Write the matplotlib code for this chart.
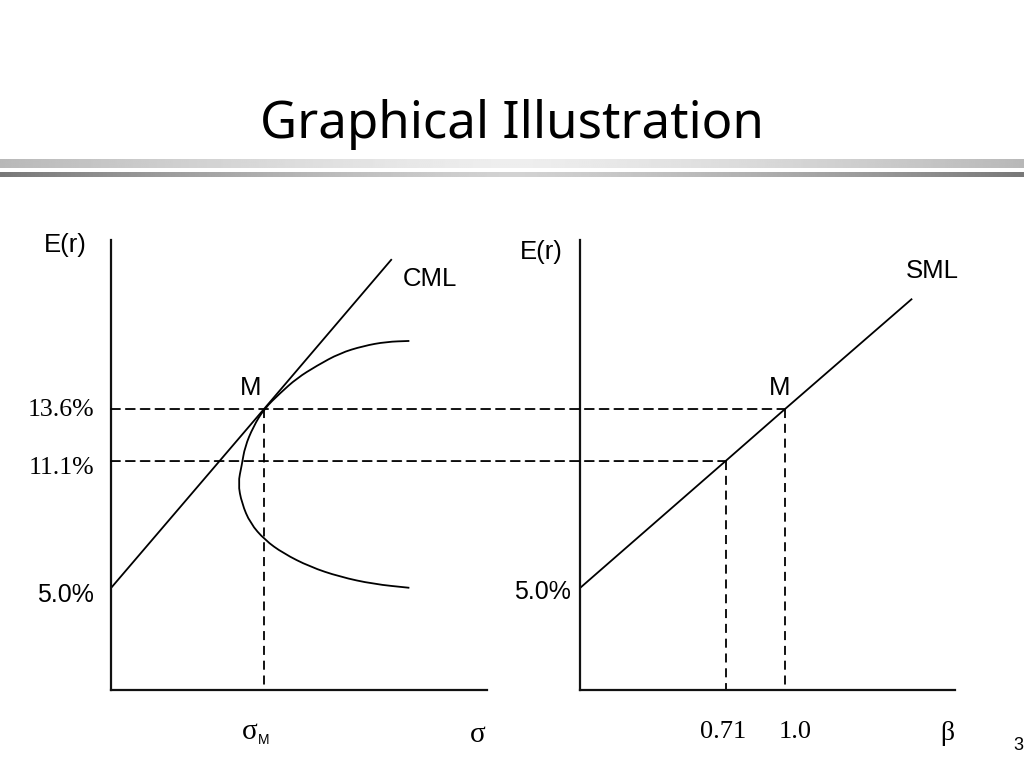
import numpy as np
import matplotlib
matplotlib.use("Agg")
import matplotlib.pyplot as plt
from matplotlib.patches import ConnectionPatch, PathPatch
from matplotlib.path import Path

# ---------------- data ----------------
E_RF = 5.0          # risk-free rate (%)
E_M = 13.6          # market expected return (%)
E_ASSET = 11.1      # expected return of asset with beta 0.71 (%)
SIGMA_M = 20.0      # market std (arbitrary units; shown only as sigma_M)
BETA_M = 1.0
BETA_ASSET = 0.71

cml_sigma = [0.0, 20.0, 36.7]
cml_er = [5.0, 13.6, 20.8]

sml_beta = [0.0, 0.71, 1.0, 1.62]
sml_er = [5.0, 11.1, 13.6, 18.9]

frontier_sigma = [39.0, 36.0, 33.0, 29.9, 26.9, 24.3, 22.1, 20.0, 18.6, 17.5,
                  17.1, 16.6, 17.1, 18.2, 20.1, 22.5, 26.0, 29.9, 34.3, 39.0]
frontier_er = [16.87, 16.83, 16.63, 16.28, 15.68, 15.08, 14.36, 13.6, 12.75, 11.78,
               10.91, 10.03, 9.07, 8.11, 7.31, 6.67, 6.02, 5.54, 5.19, 5.01]

left_yticks = [13.6, 11.1, 5.0]
left_ytick_labels = ["13.6%", "11.1%", "5.0%"]
right_xticks = [0.71, 1.0]
right_xtick_labels = ["0.71", "1.0"]

SANS = "Liberation Sans"
SERIF = "Liberation Serif"

W, H = 1024, 768
fig = plt.figure(figsize=(W / 100, H / 100), dpi=100)
fig.patch.set_facecolor("white")

# ---------- background decoration (title bars) ----------
bg = fig.add_axes([0, 0, 1, 1], zorder=-5)
t = np.linspace(-1, 1, 512)
prof = np.abs(t) ** 1.3
top_bar = 0xee - (0xee - 0xb8) * prof
low_bar = 0xd2 - (0xd2 - 0x78) * prof
bg.imshow(np.tile(top_bar, (2, 1)) / 255.0, cmap="gray", vmin=0, vmax=1,
          extent=[0, W, 168, 159], aspect="auto", interpolation="bilinear")
bg.imshow(np.tile(low_bar, (2, 1)) / 255.0, cmap="gray", vmin=0, vmax=1,
          extent=[0, W, 177, 172], aspect="auto", interpolation="bilinear")
bg.set_xlim(0, W)
bg.set_ylim(H, 0)
bg.axis("off")
bg.text(512, 124, "Graphical Illustration", fontsize=36.7, family="Noto Sans",
        ha="center", va="center", color="black")
bg.text(1013, 745, "3", fontsize=13, family=SANS, ha="left", va="center")

# ---------- axes ----------
YLIM = (0.1, 21.72)
axL = fig.add_axes([111 / W, 78 / H, 376 / W, 450 / H])
axR = fig.add_axes([580 / W, 78 / H, 375 / W, 450 / H])
axL.set_xlim(0, 49.15)
axR.set_xlim(0, 1.829)
for ax in (axL, axR):
    ax.set_ylim(*YLIM)
    ax.patch.set_alpha(0)
    for s in ("top", "right"):
        ax.spines[s].set_visible(False)
    for s in ("left", "bottom"):
        ax.spines[s].set_linewidth(1.6)
        ax.spines[s].set_color("#111111")
    ax.set_xticks([])
    ax.set_yticks([])

dash = (0, (5.0, 3.2))
lw = 1.3

# left panel: CML and efficient frontier
axL.plot(cml_sigma, cml_er, color="black", lw=lw, solid_capstyle="butt")

pts = np.column_stack([frontier_sigma, frontier_er])
verts = [pts[0], (pts[0] + pts[1]) / 2]
codes = [Path.MOVETO, Path.LINETO]
for i in range(1, len(pts) - 1):
    verts += [pts[i], (pts[i] + pts[i + 1]) / 2]
    codes += [Path.CURVE3, Path.CURVE3]
verts.append(pts[-1])
codes.append(Path.LINETO)
axL.add_patch(PathPatch(Path(verts, codes), facecolor="none",
                        edgecolor="black", lw=lw))

axL.plot([SIGMA_M, SIGMA_M], [E_M, YLIM[0]], color="black", lw=lw, ls=dash)

# right panel: SML
axR.plot(sml_beta, sml_er, color="black", lw=lw, solid_capstyle="butt")
axR.plot([BETA_M, BETA_M], [E_M, YLIM[0]], color="black", lw=lw, ls=dash)
axR.plot([BETA_ASSET, BETA_ASSET], [E_ASSET, YLIM[0]], color="black", lw=lw, ls=dash)

# horizontal dashed connectors across panels
for yv, xb in ((E_M, BETA_M), (E_ASSET, BETA_ASSET)):
    cp = ConnectionPatch(xyA=(0, yv), coordsA=axL.transData,
                         xyB=(xb, yv), coordsB=axR.transData,
                         color="black", lw=lw, linestyle=dash, zorder=3)
    fig.add_artist(cp)

# left y labels
fonts = {"13.6%": SERIF, "11.1%": SERIF, "5.0%": SANS}
offs = {"13.6%": -1, "11.1%": -7, "5.0%": -7}
for v, lab in zip(left_yticks, left_ytick_labels):
    axL.annotate(lab, xy=(0, v), xycoords=("axes fraction", "data"),
                 xytext=(-17, offs[lab]), textcoords="offset pixels",
                 ha="right", va="center", family=fonts[lab],
                 fontsize=18.5 if fonts[lab] == SERIF else 18)
axR.annotate("5.0%", xy=(0, E_RF), xycoords=("axes fraction", "data"),
             xytext=(-9, -4), textcoords="offset pixels",
             ha="right", va="center", family=SANS, fontsize=18)

# right x labels
for v, lab in zip(right_xticks, right_xtick_labels):
    axR.annotate(lab, xy=(v, 0), xycoords=("data", "axes fraction"),
                 xytext=(-2 if v < 1 else 10, -42), textcoords="offset pixels",
                 ha="center", va="center", family=SERIF, fontsize=19)

# axis symbols
axL.annotate("σ", xy=(SIGMA_M, 0), xycoords=("data", "axes fraction"),
             xytext=(-14, -42), textcoords="offset pixels",
             ha="center", va="center", family=SERIF, fontsize=21)
axL.annotate("M", xy=(SIGMA_M, 0), xycoords=("data", "axes fraction"),
             xytext=(0, -50), textcoords="offset pixels",
             ha="center", va="center", family=SANS, fontsize=10)
axL.text((478 - 111) / 376, -45 / 450, "σ", transform=axL.transAxes,
         ha="center", va="center", family=SERIF, fontsize=21)
axR.text((947 - 580) / 375, -43 / 450, "β", transform=axR.transAxes,
         ha="center", va="center", family=SERIF, fontsize=20)

# E(r) labels
axL.text((65 - 111) / 376, (690 - 245) / 450, "E(r)", transform=axL.transAxes,
         ha="center", va="center", family=SANS, fontsize=18.5)
axR.text((541 - 580) / 375, (690 - 252) / 450, "E(r)", transform=axR.transAxes,
         ha="center", va="center", family=SANS, fontsize=18.5)

# line names
axL.text((430 - 111) / 376, (690 - 279) / 450, "CML", transform=axL.transAxes,
         ha="center", va="center", family=SANS, fontsize=18.5)
axR.text((932 - 580) / 375, (690 - 271) / 450, "SML", transform=axR.transAxes,
         ha="center", va="center", family=SANS, fontsize=18.5)

# M markers
axL.annotate("M", xy=(SIGMA_M, E_M), xytext=(-13, 21), textcoords="offset pixels",
             ha="center", va="center", family=SANS, fontsize=18.5)
axR.annotate("M", xy=(BETA_M, E_M), xytext=(-5, 21), textcoords="offset pixels",
             ha="center", va="center", family=SANS, fontsize=18.5)

fig.savefig("out.png", dpi=100, facecolor="white")
